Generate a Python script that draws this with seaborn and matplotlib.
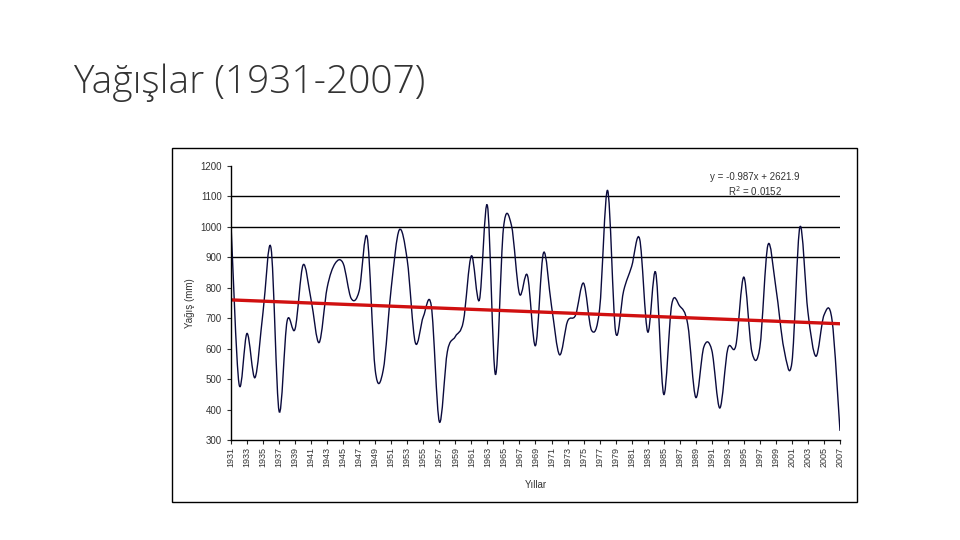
import numpy as np
import pandas as pd
import matplotlib
matplotlib.use('Agg')
import matplotlib.pyplot as plt
from matplotlib.path import Path
from matplotlib.patches import PathPatch, Rectangle
import seaborn as sns

# yearly precipitation (mm)
years = list(range(1931, 2008))
rain = [1010, 485, 650, 505, 720, 930, 395, 690, 665, 875,
        760, 620, 800, 880, 880, 765, 790, 966, 530, 530,
        800, 990, 890, 620, 705, 740, 360, 590, 640, 690,
        905, 760, 1070, 515, 995, 1005, 780, 840, 610, 915,
        740, 580, 690, 710, 815, 660, 730, 1120, 655, 790,
        870, 960, 655, 850, 450, 745, 740, 680, 440, 605,
        595, 405, 600, 610, 835, 590, 605, 940, 800, 600,
        555, 1000, 720, 575, 710, 695, 330]
yticks = list(range(300, 1300, 100))
grid_lines = [900, 1000, 1100]
eq_text = 'y = -0.987x + 2621.9'
r2_text = 'R$^2$ = 0.0152'

df = pd.DataFrame({'Yil': years, 'Yagis': rain})

sns.set_style('white')
plt.rcParams['font.family'] = ['Liberation Sans', 'DejaVu Sans']

fig = plt.figure(figsize=(9.6, 5.4), dpi=100)
fig.text(0.076, 0.846, 'Yağışlar (1931-2007)', fontsize=28, family=['Open Sans', 'DejaVu Sans'],
         fontweight='light', ha='left', va='center', color='#333333')

# chart frame
fig.patches.append(Rectangle((0.1792, 0.0704), 0.7135, 0.6556, transform=fig.transFigure,
                             fill=False, edgecolor='black', linewidth=1.0))

ax = fig.add_axes([0.2406, 0.1852, 0.6344, 0.5074])

# smoothed line like excel (bezier through every point)
x = df['Yil'].to_numpy(dtype=float)
y = df['Yagis'].to_numpy(dtype=float)
xp = np.concatenate([[x[0]], x, [x[-1]]])
yp = np.concatenate([[y[0]], y, [y[-1]]])
verts = [(x[0], y[0])]
codes = [Path.MOVETO]
for i in range(len(x) - 1):
    c1 = (x[i] + (xp[i + 2] - xp[i]) / 6, y[i] + (yp[i + 2] - yp[i]) / 6)
    c2 = (x[i + 1] - (xp[i + 3] - xp[i + 1]) / 6, y[i + 1] - (yp[i + 3] - yp[i + 1]) / 6)
    verts += [c1, c2, (x[i + 1], y[i + 1])]
    codes += [Path.CURVE4] * 3
ax.add_patch(PathPatch(Path(verts, codes), fill=False, edgecolor='#0a0a3c', linewidth=1.0))

# linear trend
sns.regplot(data=df, x='Yil', y='Yagis', scatter=False, ci=None, truncate=True,
            line_kws={'color': '#d01010', 'linewidth': 2.4}, ax=ax)

for g in grid_lines:
    ax.axhline(g, color='black', linewidth=1.0, zorder=0)

ax.set_xlim(1931, 2007)
ax.set_ylim(300, 1200)
ax.set_yticks(yticks)
ax.set_xticks(years[::2])
ax.set_xticklabels([str(v) for v in years[::2]], rotation=90, fontsize=6.5, color='#333333')
ax.tick_params(axis='y', labelsize=7, colors='#333333', length=3, direction='out', left=True)
ax.tick_params(axis='x', length=3, direction='out', bottom=True, pad=2)
ax.set_ylabel('Yağış (mm)', fontsize=7, color='#333333', labelpad=4)
ax.set_xlabel('Yıllar', fontsize=7, color='#333333', labelpad=9)

sns.despine(ax=ax, top=True, right=True)
ax.spines['left'].set_color('black')
ax.spines['bottom'].set_color('black')
ax.spines['left'].set_linewidth(1.0)
ax.spines['bottom'].set_linewidth(1.0)

ax.text(0.86, 0.96, eq_text, transform=ax.transAxes, fontsize=7, ha='center', va='center', color='#333333')
ax.text(0.86, 0.91, r2_text, transform=ax.transAxes, fontsize=7, ha='center', va='center', color='#333333')

fig.savefig('out.png', dpi=100)
